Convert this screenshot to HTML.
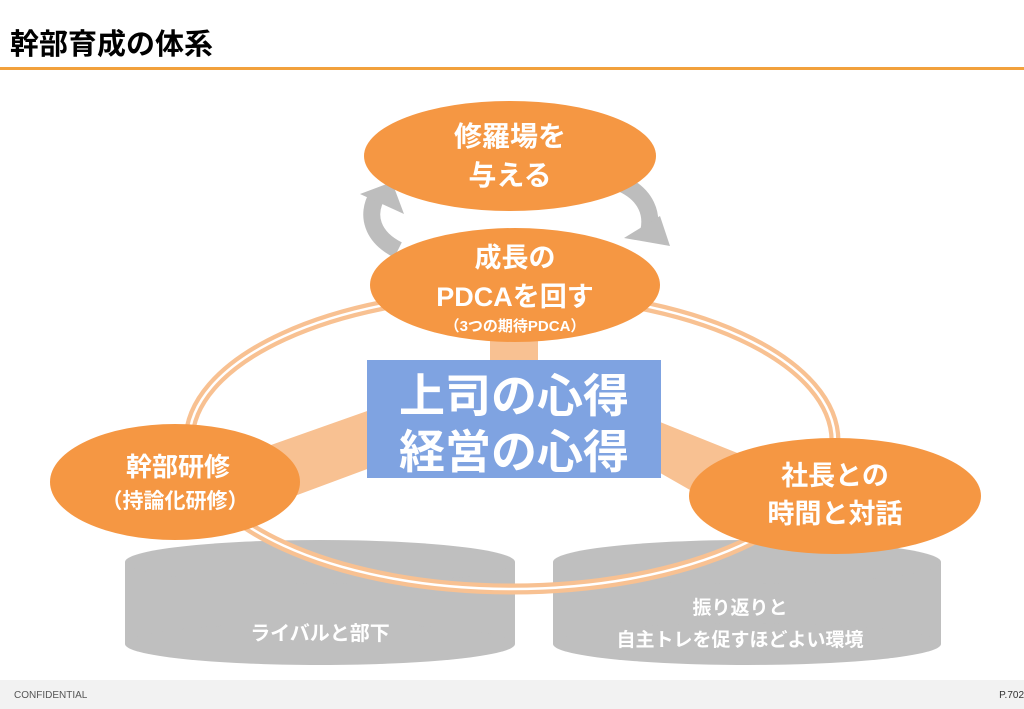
<!DOCTYPE html>
<html><head><meta charset="utf-8"><style>
body{margin:0;width:1024px;height:709px;background:#fff;overflow:hidden;font-family:"Liberation Sans","Noto Sans CJK JP",sans-serif}
svg{position:absolute;left:0;top:0}
text{font-family:"Liberation Sans","Noto Sans CJK JP",sans-serif;font-weight:bold;fill:#fff;text-anchor:middle}
</style></head><body>
<svg width="1024" height="709" viewBox="0 0 1024 709">
<text x="10" y="54" style="fill:#000;font-size:29px;text-anchor:start">幹部育成の体系</text>
<rect x="0" y="67" width="1024" height="3" fill="#f2a13c"/>
<rect x="0" y="680" width="1024" height="29" fill="#f2f2f2"/>
<text x="14" y="698" style="fill:#555;font-size:10px;font-weight:normal;text-anchor:start">CONFIDENTIAL</text>
<text x="1024" y="698" style="fill:#333;font-size:10px;font-weight:normal;text-anchor:end">P.702</text>

<!-- cylinders -->
<g fill="#bfbfbf">
<rect x="125" y="562" width="390" height="82"/><ellipse cx="320" cy="644" rx="195" ry="21"/><ellipse cx="320" cy="562" rx="195" ry="22"/>
<rect x="553" y="562" width="388" height="82"/><ellipse cx="747" cy="644" rx="194" ry="21"/><ellipse cx="747" cy="562" rx="194" ry="22"/>
</g>

<!-- ring -->
<ellipse cx="512" cy="441" rx="323" ry="148" fill="none" stroke="#f8c192" stroke-width="11"/>
<ellipse cx="512" cy="441" rx="323" ry="148" fill="none" stroke="#fff" stroke-width="2.5"/>

<text x="320" y="640" style="font-size:20px">ライバルと部下</text>
<text x="740" y="614" style="font-size:19px">振り返りと</text>
<text x="740" y="646" style="font-size:19px">自主トレを促すほどよい環境</text>

<!-- connectors -->
<rect x="490" y="335" width="48" height="30" fill="#f8c192"/>
<polygon points="370,410 370,468 230,520 200,470" fill="#f8c192"/>
<polygon points="655,420 655,470 760,530 780,470" fill="#f8c192"/>

<rect x="367" y="360" width="294" height="118" fill="#7fa3e1"/>
<text x="514" y="412" style="font-size:46px">上司の心得</text>
<text x="514" y="468" style="font-size:46px">経営の心得</text>

<!-- gray cycle arrows -->
<path d="M398,250 C372,237 366,215 377,196" fill="none" stroke="#bdbdbd" stroke-width="17"/>
<polygon points="360,194 392,182 404,214" fill="#bdbdbd"/>
<path d="M618,182 C646,193 656,215 646,240" fill="none" stroke="#bdbdbd" stroke-width="17"/>
<polygon points="624,238 670,246 660,216" fill="#bdbdbd"/>

<!-- ellipses -->
<g fill="#f59743">
<ellipse cx="510" cy="156" rx="146" ry="55"/>
<ellipse cx="515" cy="285" rx="145" ry="57"/>
<ellipse cx="175" cy="482" rx="125" ry="58"/>
<ellipse cx="835" cy="496" rx="146" ry="58"/>
</g>
<text x="510" y="146" style="font-size:28px">修羅場を</text>
<text x="510" y="185" style="font-size:28px">与える</text>
<text x="515" y="267" style="font-size:27px">成長の</text>
<text x="515" y="306" style="font-size:27px">PDCAを回す</text>
<text x="515" y="331" style="font-size:15px">（3つの期待PDCA）</text>
<text x="178" y="476" style="font-size:26px">幹部研修</text>
<text x="175" y="508" style="font-size:21px">（持論化研修）</text>
<text x="835" y="485" style="font-size:27px">社長との</text>
<text x="835" y="523" style="font-size:27px">時間と対話</text>
</svg>
</body></html>
